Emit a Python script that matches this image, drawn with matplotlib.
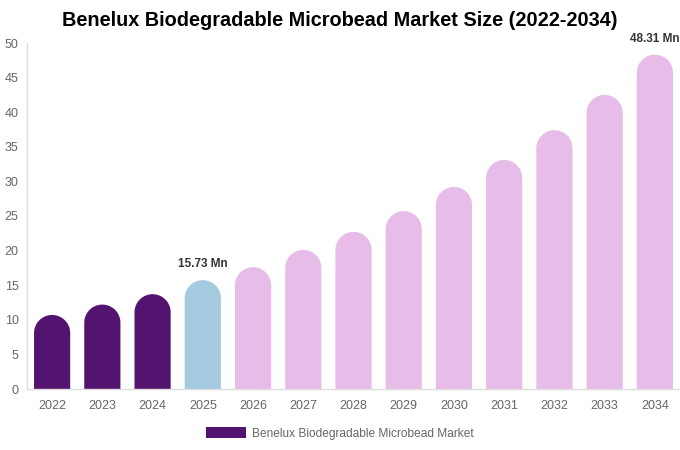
import matplotlib
matplotlib.use("Agg")
import numpy as np
import matplotlib.pyplot as plt
from matplotlib.patches import Rectangle, Polygon

years = ["2022", "2023", "2024", "2025", "2026", "2027", "2028", "2029", "2030", "2031", "2032", "2033", "2034"]
values = [10.7, 12.2, 13.7, 15.73, 17.6, 20.1, 22.7, 25.7, 29.2, 33.1, 37.4, 42.5, 48.31]
colors = ["#53146f"] * 3 + ["#a3cadf"] + ["#e7bce9"] * 9
labels = {3: "15.73 Mn", 12: "48.31 Mn"}
legend_label = "Benelux Biodegradable Microbead Market"

plt.rcParams['font.family'] = ['Liberation Sans', 'DejaVu Sans']
W, H = 680, 450
fig = plt.figure(figsize=(W / 100, H / 100), dpi=100)
ax_l, ax_r, ax_b, ax_t = 27, 680, 389, 43
ax = fig.add_axes([ax_l / W, 1 - ax_b / H, (ax_r - ax_l) / W, (ax_b - ax_t) / H])
ax.set_xlim(-0.5, len(years) - 0.5)
ax.set_ylim(0, 50)

px_per_x = (ax_r - ax_l) / len(years)
px_per_y = (ax_b - ax_t) / 50.0
bw = 0.72
r_px = bw * px_per_x / 2
r_y = r_px / px_per_y
theta = np.linspace(0, np.pi, 60)

for i, (v, c) in enumerate(zip(values, colors)):
    yc = v - r_y
    arc = np.column_stack([i + (bw / 2) * np.cos(theta), yc + r_y * np.sin(theta)])
    pts = np.vstack([[[i + bw / 2, 0]], arc, [[i - bw / 2, 0]]])
    ax.add_patch(Polygon(pts, closed=True, facecolor=c, edgecolor='none'))
    if i in labels:
        ax.text(i, v + 16 / px_per_y, labels[i], ha='center', va='center', fontsize=8.5,
                fontweight='bold', color='#333333')

ax.set_xticks(range(len(years)))
ax.set_xticklabels(years)
ax.set_yticks(range(0, 51, 5))
ax.tick_params(axis='both', length=0, labelsize=9, colors='#666666')
ax.tick_params(axis='x', pad=8)
ax.tick_params(axis='y', pad=6)
for s in ['top', 'right']:
    ax.spines[s].set_visible(False)
for s in ['left', 'bottom']:
    ax.spines[s].set_color('#dddddd')
    ax.spines[s].set_linewidth(1)

fig.text(340 / W, 1 - 21 / H, "Benelux Biodegradable Microbead Market Size (2022-2034)",
         ha='center', va='center', fontsize=14.3, fontweight='bold', color='#000000')

handle = Rectangle((0, 0), 1, 1, facecolor="#53146f", edgecolor='none')
fig.legend([handle], [legend_label], loc='center', bbox_to_anchor=(340 / W, 1 - 433.5 / H),
           frameon=False, fontsize=8.6, labelcolor='#666666', handlelength=3.35, handleheight=1.0,
           handletextpad=0.5)

fig.savefig("out.png", dpi=100)
